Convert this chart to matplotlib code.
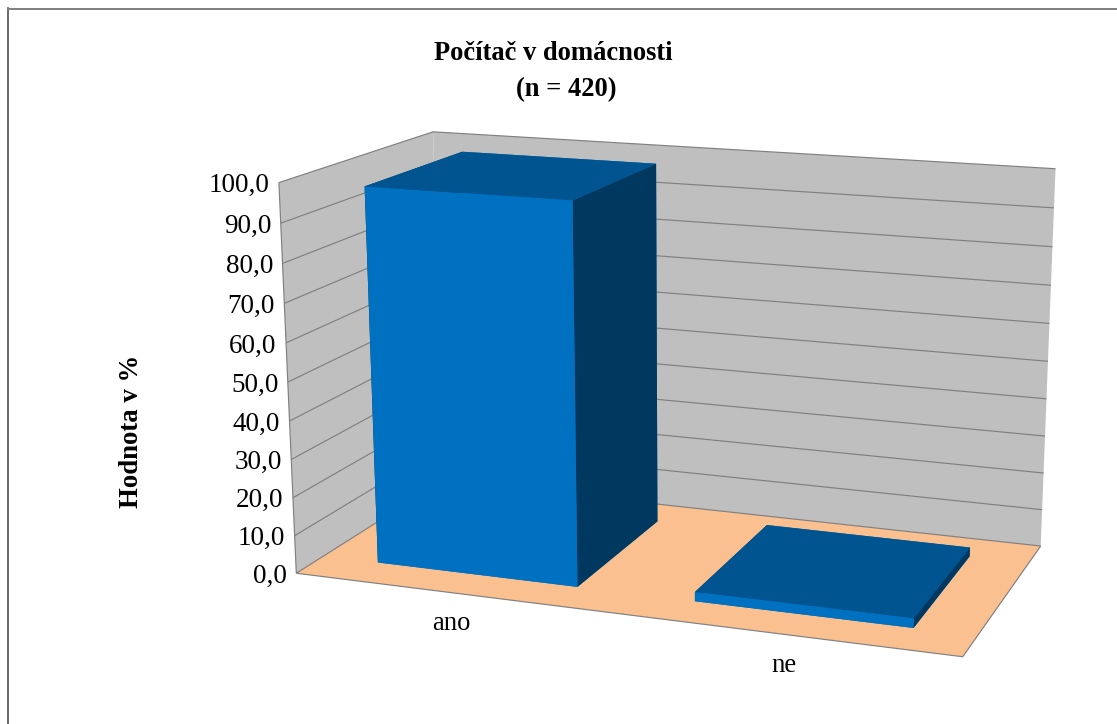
import numpy as np
import matplotlib
matplotlib.use('Agg')
import matplotlib.pyplot as plt
from matplotlib.lines import Line2D
from mpl_toolkits.mplot3d import proj3d
from mpl_toolkits.mplot3d.art3d import Poly3DCollection, Line3DCollection

categories = ['ano', 'ne']
values = [97.6, 2.4]
ticks = [0, 10, 20, 30, 40, 50, 60, 70, 80, 90, 100]
tick_labels = ['0,0', '10,0', '20,0', '30,0', '40,0', '50,0', '60,0', '70,0', '80,0', '90,0', '100,0']

W, H = 1117, 724

# kamera: body steny (x, hloubka, z) -> pixel obrazku, fit 3x4 matice (DLT)
anchors = [
    ((0, 0, 100), (279.0, 183.0)),
    ((0, 1, 100), (433.0, 131.5)),
    ((2, 1, 100), (1055.5, 168.7)),
    ((0, 0, 0), (296.0, 572.8)),
    ((2, 0, 0), (963.0, 656.8)),
    ((2, 1, 0), (1040.5, 546.0)),
    ((0, 1, 0), (443.0, 481.0)),
]


def fit_camera(pts):
    A = []
    for (x, y, z), (u, v) in pts:
        A.append([x, y, z, 1, 0, 0, 0, 0, -u * x, -u * y, -u * z, -u])
        A.append([0, 0, 0, 0, x, y, z, 1, -v * x, -v * y, -v * z, -v])
    p = np.linalg.svd(np.array(A, dtype=float))[2][-1].reshape(3, 4)
    p = p / (p[2] @ [0, 0, 0, 1])
    return np.vstack([p[0], p[1], p[2] - [0, 0, 0, 1], p[2]])


def label(px, py, s, **kw):
    fig.text(px / W, 1 - py / H, s, **kw)


plt.rcParams['font.family'] = ['Liberation Serif', 'DejaVu Serif']

fig = plt.figure(figsize=(W / 100, H / 100), dpi=100)
ax = fig.add_axes([0, 0, 1, 1], projection='3d', computed_zorder=False)
camera = fit_camera(anchors)
ax.get_proj = lambda: camera
ax.apply_aspect = lambda position=None: None
ax.set_axis_off()

# steny a podlaha
wall = '#bfbfbf'
floor = '#fac090'
line = '#808080'
ax.add_collection3d(Poly3DCollection([[(0, 0, 0), (0, 1, 0), (0, 1, 100), (0, 0, 100)]],
                                     facecolor=wall, edgecolor='none', zorder=1))
ax.add_collection3d(Poly3DCollection([[(0, 1, 0), (2, 1, 0), (2, 1, 100), (0, 1, 100)]],
                                     facecolor=wall, edgecolor='none', zorder=1))
ax.add_collection3d(Poly3DCollection([[(0, 0, 0), (2, 0, 0), (2, 1, 0), (0, 1, 0)]],
                                     facecolor=floor, edgecolor='none', zorder=1))

# mrizka a hrany
segs = [[(0, 0, t), (0, 1, t), (2, 1, t)] for t in ticks]
segs.append([(0, 0, 0), (0, 0, 100)])
segs.append([(0, 0, 0), (2, 0, 0), (2, 1, 0)])
ax.add_collection3d(Line3DCollection(segs, colors=line, linewidths=0.85, zorder=2), autolim=False)

# sloupce
bar_w = 0.64
bar_d = 0.66
for i, v in enumerate(values):
    ax.bar3d(i + 0.5 - bar_w / 2, 0.5 - bar_d / 2, 0, bar_w, bar_d, v,
             color=['#0070c0', '#005490', '#0070c0', '#0070c0', '#003860', '#003860'],
             shade=False, edgecolor='none', linewidth=0, zorder=3)

# popisky os
for t, s in zip(ticks, tick_labels):
    px, py, _ = proj3d.proj_transform(0, 0, t, camera)
    label(px - 9.5, py + 3, s, ha='right', va='center', fontsize=19.5)
for i, s in enumerate(categories):
    px, py, _ = proj3d.proj_transform(i + 0.5, 0, 0, camera)
    label(px, py + 31, s, ha='center', va='center', fontsize=19.2)

label(553.5, 54, 'Počítač v domácnosti', ha='center', va='center', fontsize=19.1, fontweight='bold')
label(566, 90, '(n = 420)', ha='center', va='center', fontsize=19.1, fontweight='bold')
label(132, 431, 'Hodnota v %', rotation=90, ha='center', va='center', fontsize=19.3, fontweight='bold')

# ramecek grafu, vpravo a dole neni
fig.add_artist(Line2D([8 / W, 8 / W], [0, 1 - 8 / H], color='#505050', lw=1.2))
fig.add_artist(Line2D([8 / W, 1], [1 - 8.5 / H, 1 - 8.5 / H], color='#7f7f7f', lw=1.4))

# 2D limity az nakonec, projekce vraci rovnou pixely
ax.viewLim.intervalx = (0, W)
ax.viewLim.intervaly = (H, 0)

fig.savefig('out.png', dpi=100)
